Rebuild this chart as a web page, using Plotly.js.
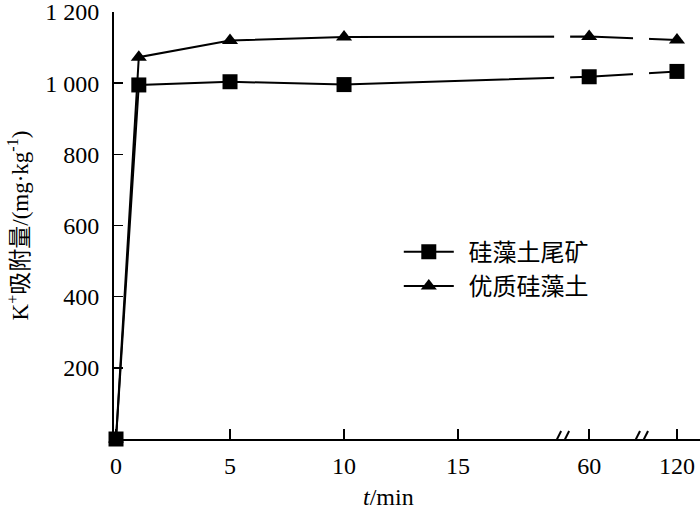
<!DOCTYPE html>
<html>
<head>
<meta charset="utf-8">
<script src="https://cdn.plot.ly/plotly-3.0.1.min.js"></script>
<style>html,body{margin:0;padding:0;background:#fff;}#chart{width:700px;height:512px;}</style>
</head>
<body>
<div id="chart"></div>
<script>
// ---- data ----
const minutes = [0, 1, 5, 10, 60, 120];
const tailings = [0, 995, 1004, 996, 1018, 1033];      // 硅藻土尾矿
const premium = [0, 1073, 1120, 1130, 1131, 1121];     // 优质硅藻土
const seriesNames = ['硅藻土尾矿', '优质硅藻土'];
const xTickMinutes = [0, 5, 10, 15, 60, 120];
const xTickLabels = ['0', '5', '10', '15', '60', '120'];
const yTickVals = [200, 400, 600, 800, 1000, 1200];
const yTickLabels = ['200', '400', '600', '800', '1 000', '1 200'];

// ---- broken time axis: piecewise linear scale ----
const segments = [
  {from: 0, to: 19.3, start: 0, k: 1},
  {from: 55, to: 65, start: 20.1, k: 0.13},
  {from: 116, to: 125, start: 24.08, k: 0.13}
];
function xpos(t) {
  for (const s of segments) if (t >= s.from && t <= s.to) return s.start + (t - s.from) * s.k;
  return null;
}
const breaks = [19.52, 22.98];

const serif = 'Liberation Serif, Times New Roman, serif';
const cjk = 'Liberation Serif, Noto Sans CJK SC, serif';
const X = minutes.map(xpos);

const traces = [
  {x: X, y: tailings, name: '\u2009\u2009' + seriesNames[0], mode: 'lines+markers', cliponaxis: false,
   line: {color: '#000', width: 2}, marker: {symbol: 'square', size: 15, color: '#000'}},
  {x: X, y: premium, name: '\u2009\u2009' + seriesNames[1], mode: 'lines+markers', cliponaxis: false,
   line: {color: '#000', width: 2}, marker: {symbol: 'triangle-up', size: 14, color: '#000'}}
];

const shapes = [];
breaks.forEach(b => {
  // gap in the data lines
  shapes.push({type: 'rect', layer: 'above', xref: 'x', yref: 'y', xsizemode: 'pixel', xanchor: b,
    x0: -7, x1: 9, y0: 850, y1: 1200, fillcolor: '#fff', line: {width: 0}});
  // gap in the x axis line
  shapes.push({type: 'rect', layer: 'above', xref: 'x', yref: 'y', xsizemode: 'pixel', ysizemode: 'pixel',
    xanchor: b, yanchor: 0, x0: -8, x1: 8, y0: -4, y1: 4, fillcolor: '#fff', line: {width: 0}});
  // slashes
  [-4, 4].forEach(o => {
    shapes.push({type: 'line', layer: 'above', xref: 'x', yref: 'y', xsizemode: 'pixel', ysizemode: 'pixel',
      xanchor: b, yanchor: 0, x0: o - 4, x1: o + 4, y0: -8, y1: 8, line: {color: '#000', width: 2}});
  });
});

const layout = {
  width: 700, height: 512,
  margin: {l: 114, r: 0, t: 12, b: 73},
  paper_bgcolor: '#fff', plot_bgcolor: '#fff',
  font: {family: serif, color: '#000', size: 24},
  showlegend: true,
  legend: {x: 0.486, y: 0.49, xanchor: 'left', yanchor: 'top', bgcolor: 'rgba(0,0,0,0)',
    font: {family: cjk, size: 24, color: '#000'}, itemwidth: 50, tracegroupgap: 0},
  xaxis: {
    range: [-0.088, 25.61], showgrid: false, zeroline: false,
    showline: true, linecolor: '#000', linewidth: 2,
    ticks: 'inside', ticklen: 10, tickwidth: 1.5, tickcolor: '#000',
    tickmode: 'array', tickvals: xTickMinutes.map(xpos), ticktext: xTickLabels,
    tickfont: {family: serif, size: 24, color: '#000'}, ticklabelstandoff: 4
  },
  yaxis: {
    range: [0, 1200], showgrid: false, zeroline: false,
    showline: true, linecolor: '#000', linewidth: 2,
    ticks: 'inside', ticklen: 9, tickwidth: 1.5, tickcolor: '#000',
    tickmode: 'array', tickvals: yTickVals, ticktext: yTickLabels, ticklabeloverflow: 'allow',
    tickfont: {family: serif, size: 24, color: '#000'}, ticklabelstandoff: 8,
    title: {text: 'K<sup>+</sup>吸附量/(mg·kg<sup>-1</sup>)', font: {family: cjk, size: 23, color: '#000'}, standoff: 10}
  },
  annotations: [{
    text: '<i>t</i>/min', xref: 'paper', yref: 'paper', x: 0.4676, y: -0.135,
    xanchor: 'center', yanchor: 'middle', showarrow: false,
    font: {family: serif, size: 24, color: '#000'}
  }],
  shapes: shapes
};

Plotly.newPlot('chart', traces, layout, {displayModeBar: false, staticPlot: true});
</script>
</body>
</html>
